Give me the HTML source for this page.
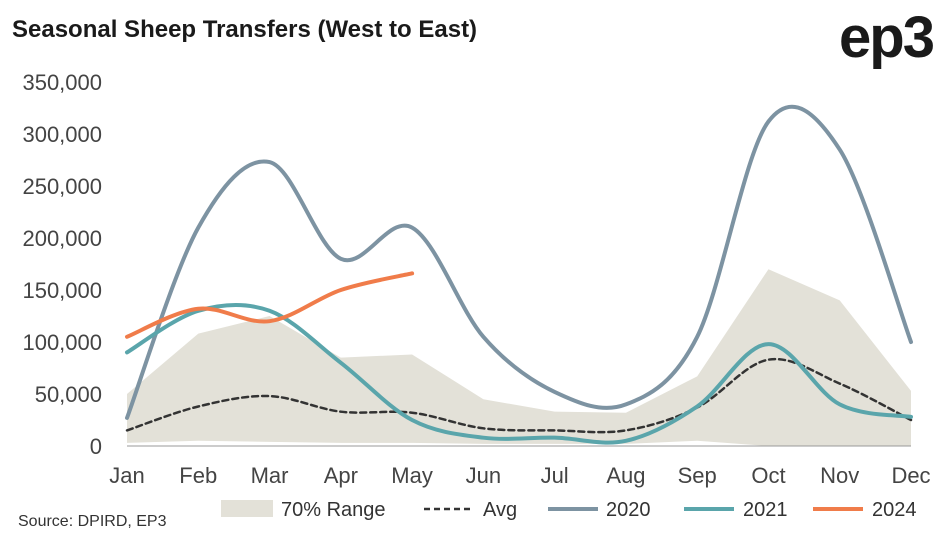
<!DOCTYPE html>
<html><head><meta charset="utf-8"><style>
body{margin:0;background:#fff;}
svg text{font-family:"Liberation Sans",sans-serif;}
</style></head><body>
<svg id="chart" width="949" height="539" viewBox="0 0 949 539">
<text x="12" y="37" font-size="24" font-weight="bold" fill="#1a1a1a">Seasonal Sheep Transfers (West to East)</text>
<text x="933" y="57" font-size="58" font-weight="bold" fill="#1a1a1a" text-anchor="end" letter-spacing="-2">ep3</text>
<g id="yaxis"></g>
<g id="xaxis"></g>
<g id="plot"></g>
<text x="18" y="526" font-size="16" fill="#333">Source: DPIRD, EP3</text>
<g id="legend"></g>
</svg>
<script>
const months=["Jan","Feb","Mar","Apr","May","Jun","Jul","Aug","Sep","Oct","Nov","Dec"];
const yTicks=[0,50000,100000,150000,200000,250000,300000,350000];
const rangeHigh=[50000,108000,125000,85000,88000,45000,33000,32000,67000,170000,140000,53000];
const rangeLow=[3000,5000,4000,3000,3000,2000,2000,2000,5000,0,0,0];
const avg=[15000,38000,48000,33000,32000,17000,15000,15000,37000,83000,60000,25000];
const s2020=[27000,210000,273000,180000,210000,105000,52000,40000,105000,312000,285000,100000];
const s2021=[90000,130000,130000,80000,25000,8000,8000,5000,38000,98000,40000,28000];
const s2024=[105000,132000,120000,150000,166000];
const NS="http://www.w3.org/2000/svg";
const x=i=>127+i*(911-127)/11;
const y=v=>446-v*(446-82)/350000;
function el(t,a,p){const e=document.createElementNS(NS,t);for(const k in a)e.setAttribute(k,a[k]);p.appendChild(e);return e;}
const ya=document.getElementById('yaxis'),xa=document.getElementById('xaxis'),plot=document.getElementById('plot'),lg=document.getElementById('legend');
yTicks.forEach(v=>{const t=el('text',{x:102,y:y(v)+8,'font-size':22,fill:'#444','text-anchor':'end'},ya);t.textContent=v.toLocaleString('en-US');

});
months.forEach((m,i)=>{const t=el('text',{x:x(i),y:483,'font-size':22,fill:'#444','text-anchor':'middle'},xa);t.textContent=m;

});
function smooth(vals){const p=vals.map((v,i)=>[x(i),y(v)]);let d=`M${p[0][0]},${p[0][1]}`;
for(let i=0;i<p.length-1;i++){const p0=p[i-1]||p[i],p1=p[i],p2=p[i+1],p3=p[i+2]||p2;
d+=` C${p1[0]+(p2[0]-p0[0])/6},${p1[1]+(p2[1]-p0[1])/6} ${p2[0]-(p3[0]-p1[0])/6},${p2[1]-(p3[1]-p1[1])/6} ${p2[0]},${p2[1]}`;}return d;}
let bd=rangeHigh.map((v,i)=>(i?'L':'M')+x(i)+','+y(v)).join(' ');
for(let i=rangeLow.length-1;i>=0;i--)bd+=' L'+x(i)+','+y(rangeLow[i]);
const band=el('path',{d:bd+'Z',fill:'#e3e1d8'},plot);


const axl=el('line',{x1:127,x2:911,y1:446,y2:446,stroke:'#999','stroke-width':1},plot);


const series=[[avg,'#333',2.5,'6,4','avg-line'],[s2020,'#7d93a2',4,'','line-2020'],[s2021,'#5aa5ab',4,'','line-2021'],[s2024,'#f07c4a',4,'','line-2024']];
series.forEach(s=>{const p=el('path',{d:smooth(s[0]),fill:'none',stroke:s[1],'stroke-width':s[2],'stroke-dasharray':s[3],'stroke-linecap':'round'},plot);

});
const r=el('rect',{x:221,y:500,width:52,height:17,fill:'#e3e1d8'},lg);


const items=[[281,'70% Range',null],[483,'Avg',['#333',424,474,'6,4',2.5]],[606,'2020',['#7d93a2',548,598,'',4]],[743,'2021',['#5aa5ab',684,734,'',4]],[872,'2024',['#f07c4a',813,863,'',4]]];
items.forEach(it=>{if(it[2]){const l=el('line',{x1:it[2][1],x2:it[2][2],y1:509,y2:509,stroke:it[2][0],'stroke-width':it[2][4],'stroke-dasharray':it[2][3]},lg);

}
const t=el('text',{x:it[0],y:516,'font-size':20,fill:'#333'},lg);t.textContent=it[1];

});
</script>
</body></html>
